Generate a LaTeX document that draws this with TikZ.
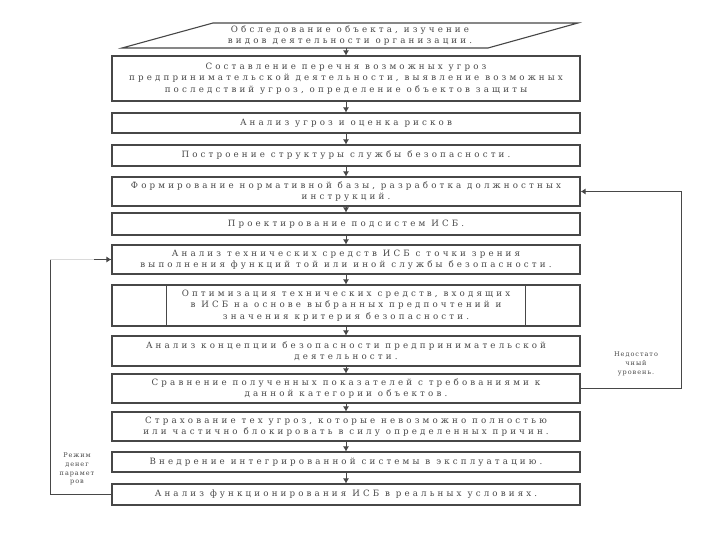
\documentclass[tikz,border=0pt]{standalone}
\usepackage{fontspec}
\usetikzlibrary{arrows.meta}
\setmainfont{DejaVu Serif}
\newfontfamily\boxfont[LetterSpace=36]{DejaVu Serif}
\newfontfamily\smallfont[LetterSpace=15]{DejaVu Serif}
\colorlet{ink}{black!72}
\tikzset{
  boxline/.style={draw=ink, line width=1.1pt},
  box/.style={boxline, minimum width=468pt, inner sep=0pt, align=center,
    font=\boxfont\fontsize{8.7}{11.3}\selectfont, text=ink},
  lbl/.style={align=center, inner sep=0pt, font=\smallfont\fontsize{6.5}{8.8}\selectfont, text=ink},
  arr/.style={draw=ink, line width=0.8pt, -{Latex[length=5pt,width=6pt]}},
  loop/.style={draw=ink, line width=0.9pt}
}
\begin{document}
\begin{tikzpicture}[x=1pt,y=-1pt]
\useasboundingbox (0,0) rectangle (720,540);
% first (parallelogram) step
\draw[boxline] (122,48) -- (213,23) -- (578,23) -- (488,48) -- cycle;
\node[box, draw=none, minimum width=0pt] (p0) at (350,35.5) {Обследование объекта, изучение\\видов деятельности организации.};
\coordinate (p0b) at (346,48);
% boxes
\node[box, minimum height=45pt] (b2) at (346,78.5) {Составление перечня возможных угроз\\предпринимательской деятельности, выявление возможных\\последствий угроз, определение объектов защиты};
\node[box, minimum height=20pt] (b3) at (346,123) {Анализ угроз и оценка рисков};
\node[box, minimum height=21pt] (b4) at (346,155.5) {Построение структуры службы безопасности.};
\node[box, minimum height=29pt] (b5) at (346,191.5) {Формирование нормативной базы, разработка должностных\\инструкций.};
\node[box, minimum height=22pt] (b6) at (346,224) {Проектирование подсистем ИСБ.};
\node[box, minimum height=29pt] (b7) at (346,259.5) {Анализ технических средств ИСБ с точки зрения\\выполнения функций той или иной службы безопасности.};
\node[box, minimum height=41pt] (b8) at (346,305.5) {Оптимизация технических средств, входящих\\в ИСБ на основе выбранных предпочтений и\\значения критерия безопасности.};
\draw[boxline] ([xshift=55pt]b8.north west) -- ([xshift=55pt]b8.south west);
\draw[boxline] ([xshift=-55pt]b8.north east) -- ([xshift=-55pt]b8.south east);
\node[box, minimum height=30pt] (b9) at (346,351) {Анализ концепции безопасности предпринимательской\\деятельности.};
\node[box, minimum height=29pt] (b10) at (346,388.5) {Сравнение полученных показателей с требованиями к\\данной категории объектов.};
\node[box, minimum height=29pt] (b11) at (346,426.5) {Страхование тех угроз, которые невозможно полностью\\или частично блокировать в силу определенных причин.};
\node[box, minimum height=20pt] (b12) at (346,462) {Внедрение интегрированной системы в эксплуатацию.};
\node[box, minimum height=21pt] (b13) at (346,494.5) {Анализ функционирования ИСБ в реальных условиях.};
% main arrows
\draw[arr] (p0b) -- (b2);
\foreach \a/\b in {b2/b3,b3/b4,b4/b5,b5/b6,b6/b7,b7/b8,b8/b9,b9/b10,b10/b11,b11/b12,b12/b13}
  \draw[arr] (\a) -- (\b);
% right feedback loop
\coordinate (r1) at (681,0);
\draw[loop] (b10.east) -- (b10.east -| r1) -- (b5.east -| r1);
\draw[arr, line width=0.9pt] (b5.east -| r1) -- (b5.east);
\node[lbl] (lr) at (636,364) {Недостато\\чный\\уровень.};
% left feedback loop
\coordinate (l1) at (50,0);
\coordinate (l2) at (94,0);
\draw[loop] (b13.west) -- (b13.west -| l1) -- (b7.west -| l1);
\draw[draw=ink!20, line width=0.4pt] (b7.west -| l1) -- (b7.west -| l2);
\draw[arr, line width=0.9pt] (b7.west -| l2) -- (b7.west);
\node[lbl] (ll) at (77,469) {Режим\\денег\\парамет\\ров};
\end{tikzpicture}
\end{document}
